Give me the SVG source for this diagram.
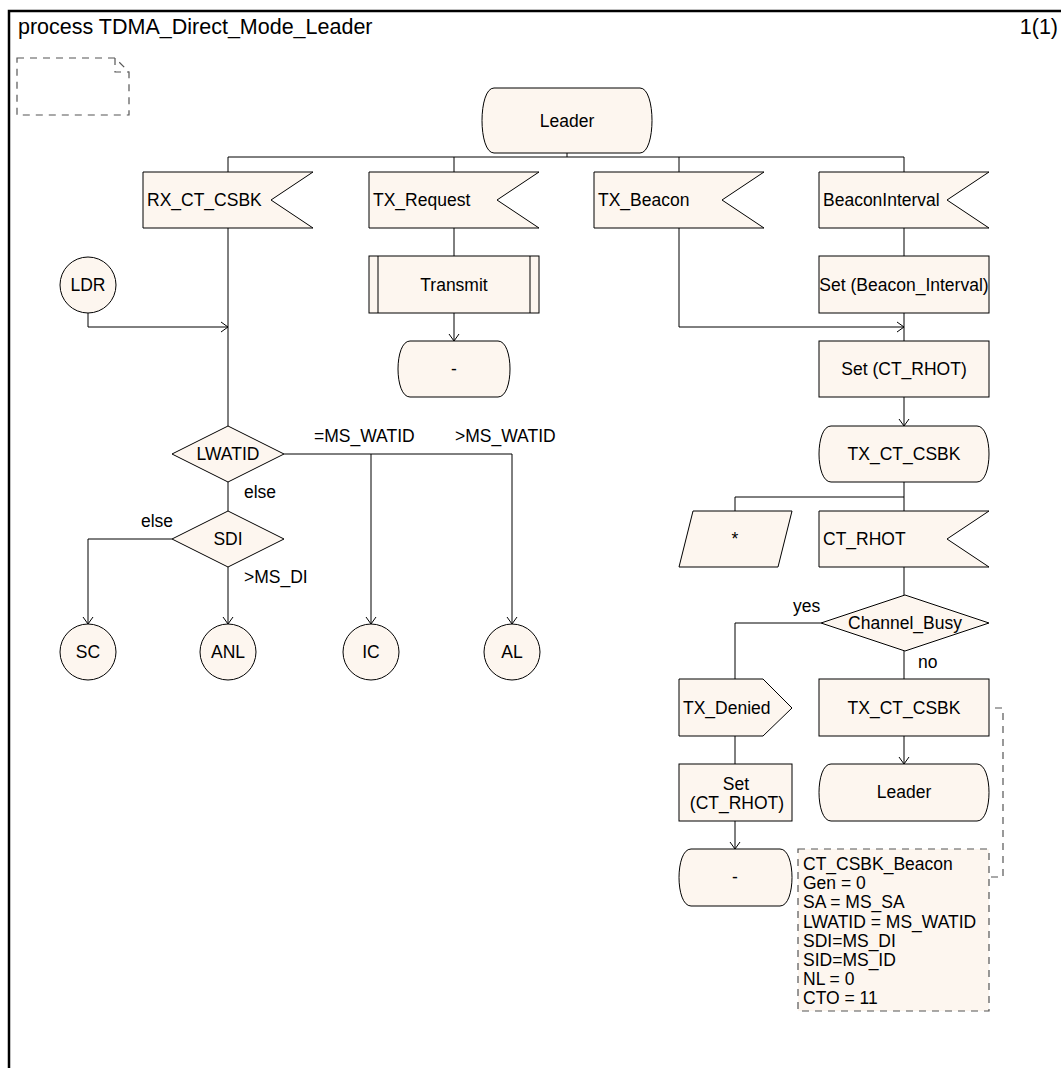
<svg xmlns="http://www.w3.org/2000/svg" width="1061" height="1068" viewBox="0 0 1061 1068">
<style>
text{font-family:"Liberation Sans",Arial,sans-serif;font-size:17.5px;fill:#000}
.c{text-anchor:middle}
.h{font-size:21.5px}
.n{fill:#fdf6ef;stroke:#000;stroke-width:1}
.l{fill:none;stroke:#000;stroke-width:1}
.a{fill:none;stroke:#000;stroke-width:1;marker-end:url(#arr)}
.d{fill:none;stroke:#555;stroke-width:1.2;stroke-dasharray:7 6}
.dn{fill:#fdf6ef;stroke:#555;stroke-width:1.2;stroke-dasharray:7 6}
</style>
<defs>
<marker id="arr" markerWidth="10" markerHeight="12" viewBox="-8 -6 10 12" refX="0" refY="0" orient="auto" markerUnits="userSpaceOnUse"><path d="M-7,-5 L0,0 L-7,5" fill="none" stroke="#000" stroke-width="1"/></marker>
</defs>
<rect width="1061" height="1068" fill="#fff"/>
<g id="frame">
<path d="M9,1068 V11 H1061" fill="none" stroke="#000" stroke-width="2.5"/>
<text class="h" x="18" y="34">process TDMA_Direct_Mode_Leader</text>
<text class="h" x="1058" y="34" text-anchor="end">1(1)</text>
</g>
<g id="textsymbol">
<path class="d" d="M17,58 H115 L129,72 V115 H17 Z M115,58 V72 H129"/>
</g>
<g id="connectors">
<path class="l" d="M567,153 V157 M228,157 H904 M228,157 V172 M454,157 V172 M679,157 V172 M904,157 V172"/>
<path class="l" d="M228,228 V426"/>
<path class="a" d="M88,313 V327 H228"/>
<path class="l" d="M228,482 V511"/>
<path class="a" d="M172,539 H88 V624"/>
<path class="a" d="M228,567 V624"/>
<path class="a" d="M284,454 H512 V624"/>
<path class="a" d="M371,454 V624"/>
<path class="l" d="M454,228 V256"/>
<path class="a" d="M454,313 V341"/>
<path class="a" d="M679,228 V327 H904"/>
<path class="l" d="M904,228 V256 M904,313 V341"/>
<path class="a" d="M904,397 V426"/>
<path class="l" d="M904,482 V511 M904,497 H735 V511"/>
<path class="l" d="M904,567 V595"/>
<path class="l" d="M821,623 H735 V679"/>
<path class="l" d="M904,651 V679"/>
<path class="l" d="M735,736 V764"/>
<path class="a" d="M735,821 V849"/>
<path class="a" d="M904,736 V764"/>
<path class="d" d="M995,708 H1003 V877 H989"/>
<text x="314" y="442">=MS_WATID</text>
<text x="455" y="442">&gt;MS_WATID</text>
<text x="244" y="498">else</text>
<text x="141" y="527">else</text>
<text x="244" y="583">&gt;MS_DI</text>
<text x="793" y="612">yes</text>
<text x="918" y="668">no</text>
</g>
<g id="leader_start">
<path class="n" d="M494,88 H640 C656,88 656,153 640,153 H494 C478,153 478,88 494,88 Z"/>
<text class="c" x="567" y="127">Leader</text>
</g>
<g id="rx_ct_csbk">
<path class="n" d="M143,172 H313 L271,200 L313,228 H143 Z"/>
<text x="147" y="206">RX_CT_CSBK</text>
</g>
<g id="tx_request">
<path class="n" d="M369,172 H539 L497,200 L539,228 H369 Z"/>
<text x="373" y="206">TX_Request</text>
</g>
<g id="tx_beacon">
<path class="n" d="M594,172 H764 L722,200 L764,228 H594 Z"/>
<text x="598" y="206">TX_Beacon</text>
</g>
<g id="beacon_interval">
<path class="n" d="M819,172 H989 L947,200 L989,228 H819 Z"/>
<text x="823" y="206">BeaconInterval</text>
</g>
<g id="ldr">
<circle class="n" cx="88" cy="285" r="28"/>
<text class="c" x="88" y="291">LDR</text>
</g>
<g id="transmit">
<rect class="n" x="369" y="256" width="170" height="57"/>
<path class="l" d="M378,256 V313 M530,256 V313"/>
<text class="c" x="454" y="291">Transmit</text>
</g>
<g id="dash_state1">
<path class="n" d="M410,341 H498 C514,341 514,397 498,397 H410 C394,397 394,341 410,341 Z"/>
<text class="c" x="454" y="375">-</text>
</g>
<g id="lwatid">
<path class="n" d="M228,426 L284,454 L228,482 L172,454 Z"/>
<text class="c" x="228" y="460">LWATID</text>
</g>
<g id="sdi">
<path class="n" d="M228,511 L284,539 L228,567 L172,539 Z"/>
<text class="c" x="228" y="545">SDI</text>
</g>
<g id="sc">
<circle class="n" cx="88" cy="652" r="28"/>
<text class="c" x="88" y="658">SC</text>
</g>
<g id="anl">
<circle class="n" cx="228" cy="652" r="28"/>
<text class="c" x="228" y="658">ANL</text>
</g>
<g id="ic">
<circle class="n" cx="371" cy="652" r="28"/>
<text class="c" x="371" y="658">IC</text>
</g>
<g id="al">
<circle class="n" cx="512" cy="652" r="28"/>
<text class="c" x="512" y="658">AL</text>
</g>
<g id="set_beacon_interval">
<rect class="n" x="819" y="256" width="170" height="57"/>
<text class="c" x="904" y="291">Set (Beacon_Interval)</text>
</g>
<g id="set_ct_rhot">
<rect class="n" x="819" y="341" width="170" height="56"/>
<text class="c" x="904" y="375">Set (CT_RHOT)</text>
</g>
<g id="tx_ct_csbk_state">
<path class="n" d="M831,426 H977 C993,426 993,482 977,482 H831 C815,482 815,426 831,426 Z"/>
<text class="c" x="904" y="460">TX_CT_CSBK</text>
</g>
<g id="asterisk">
<path class="n" d="M693,511 H792 L778,567 H679 Z"/>
<text class="c" x="735" y="545">*</text>
</g>
<g id="ct_rhot">
<path class="n" d="M819,511 H989 L947,539 L989,567 H819 Z"/>
<text x="823" y="545">CT_RHOT</text>
</g>
<g id="channel_busy">
<path class="n" d="M905,595 L989,623 L905,651 L821,623 Z"/>
<text class="c" x="905" y="629">Channel_Busy</text>
</g>
<g id="tx_denied">
<path class="n" d="M679,679 H763 L792,708 L763,736 H679 Z"/>
<text x="683" y="714">TX_Denied</text>
</g>
<g id="tx_ct_csbk_task">
<rect class="n" x="819" y="679" width="170" height="57"/>
<text class="c" x="904" y="714">TX_CT_CSBK</text>
</g>
<g id="set_ct_rhot2">
<rect class="n" x="679" y="764" width="113" height="57"/>
<text class="c" x="736" y="790">Set</text>
<text class="c" x="737" y="809">(CT_RHOT)</text>
</g>
<g id="leader_end">
<path class="n" d="M831,764 H977 C993,764 993,821 977,821 H831 C815,821 815,764 831,764 Z"/>
<text class="c" x="904" y="798">Leader</text>
</g>
<g id="dash_state2">
<path class="n" d="M691,849 H780 C796,849 796,906 780,906 H691 C675,906 675,849 691,849 Z"/>
<text class="c" x="735" y="883">-</text>
</g>
<g id="note">
<rect class="dn" x="798" y="849" width="191" height="162"/>
<text x="803" y="870">CT_CSBK_Beacon</text>
<text x="803" y="889">Gen = 0</text>
<text x="803" y="908">SA = MS_SA</text>
<text x="803" y="928">LWATID = MS_WATID</text>
<text x="803" y="947">SDI=MS_DI</text>
<text x="803" y="966">SID=MS_ID</text>
<text x="803" y="985">NL = 0</text>
<text x="803" y="1004">CTO = 11</text>
</g>
</svg>
